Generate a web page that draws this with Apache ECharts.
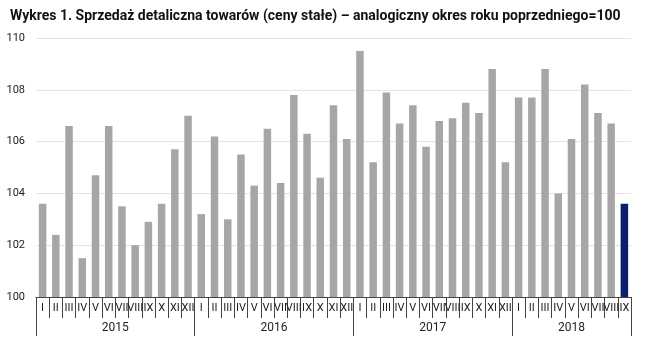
<!DOCTYPE html>
<html>
<head>
<meta charset="utf-8">
<script src="https://cdn.jsdelivr.net/npm/echarts@6/dist/echarts.min.js"></script>
<style>html,body{margin:0;padding:0;background:#fff}#c{width:645px;height:350px}</style>
</head>
<body>
<div id="c"></div>
<script>
var titleText = 'Wykres 1. Sprzedaż detaliczna towarów (ceny stałe) – analogiczny okres roku poprzedniego=100';
var months = ['I','II','III','IV','V','VI','VII','VIII','IX','X','XI','XII',
              'I','II','III','IV','V','VI','VII','VIII','IX','X','XI','XII',
              'I','II','III','IV','V','VI','VII','VIII','IX','X','XI','XII',
              'I','II','III','IV','V','VI','VII','VIII','IX'];
var years = ['2015','2016','2017','2018'];
var yearStarts = [0, 12, 24, 36, 45];
var values = [103.6,102.4,106.6,101.5,104.7,106.6,103.5,102.0,102.9,103.6,105.7,107.0,
              103.2,106.2,103.0,105.5,104.3,106.5,104.4,107.8,106.3,104.6,107.4,106.1,
              109.5,105.2,107.9,106.7,107.4,105.8,106.8,106.9,107.5,107.1,108.8,105.2,
              107.7,107.7,108.8,104.0,106.1,108.2,107.1,106.7,103.6];
var yTicks = [100,102,104,106,108,110];
var highlightIndex = 44;

var chart = echarts.init(document.getElementById('c'), null, {renderer:'canvas'});
var yearCenters = [];
for (var i = 0; i < years.length; i++) yearCenters.push((yearStarts[i] + yearStarts[i+1]) / 2);

var data = values.map(function(v, i){
  return i === highlightIndex ? {value: v, itemStyle:{color:'#0b1f6e'}} : v;
});

chart.setOption({
  animation: false,
  title: {
    text: titleText, left: 5, top: 4,
    textStyle: {fontFamily:'Roboto', fontWeight:'bold', fontSize:14, color:'#111'}
  },
  grid: {left: 36, right: 14, top: 38, bottom: 53, containLabel: false},
  xAxis: [{
    type: 'category', data: months, position: 'bottom', boundaryGap: true,
    axisLine: {show: true, lineStyle: {color: '#444', width: 1}},
    axisTick: {show: true, interval: 0, length: 21, lineStyle: {color: '#444'}},
    axisLabel: {interval: 0, margin: 6, fontSize: 11, color: '#222', fontFamily: 'Roboto', hideOverlap: false}
  }, {
    type: 'value', position: 'bottom', min: 0, max: 45,
    splitLine: {show: false},
    axisLine: {show: false},
    axisTick: {show: true, customValues: yearStarts, length: 39, lineStyle: {color: '#444'}},
    axisLabel: {customValues: yearCenters, margin: 25, fontSize: 12, color: '#222', fontFamily: 'Roboto',
      formatter: function(v){ var k = yearCenters.indexOf(v); return k >= 0 ? years[k] : ''; }}
  }],
  yAxis: {
    type: 'value', min: 100, max: 110, interval: 2,
    axisLine: {show: false}, axisTick: {show: false},
    splitLine: {lineStyle: {color: '#e3e3e3', width: 1}},
    axisLabel: {margin: 11, fontSize: 11, color: '#222', fontFamily: 'Roboto',
      formatter: function(v){ return yTicks.indexOf(v) >= 0 ? String(v) : ''; }}
  },
  series: [{
    type: 'bar', xAxisIndex: 0, data: data, barWidth: 7.5,
    itemStyle: {color: '#a6a6a6'}
  }]
});
</script>
</body>
</html>
